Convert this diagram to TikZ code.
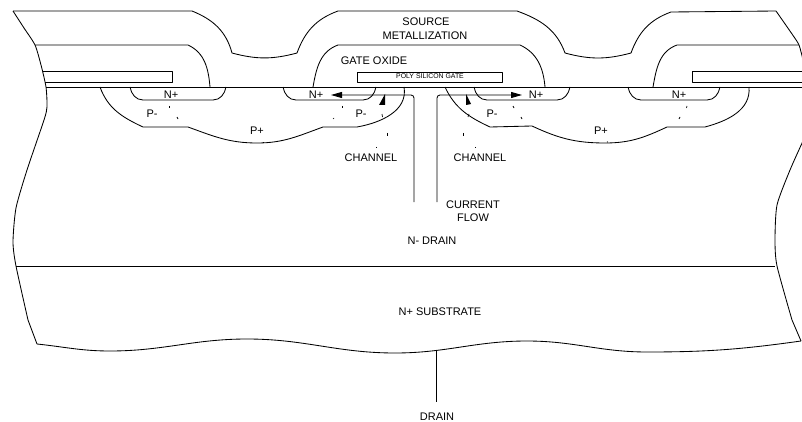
\documentclass[tikz,border=0pt]{standalone}
\usepackage{fontspec}
\setmainfont{Liberation Sans}
\usepackage{tikz}
\usetikzlibrary{arrows.meta}

\begin{document}
\begin{tikzpicture}[
        x=1pt,
        y=-1pt,
        outline/.style={line width=0.85pt, black, line join=round},
        flow/.style={line width=0.85pt, black, rounded corners=3pt, {Triangle[length=11pt, width=6pt]}-},
        tick/.style={line width=0.7pt, black},
        label/.style={font=\fontsize{11}{13}\selectfont, inner sep=0pt, align=center},
        tiny/.style={font=\fontsize{6.9}{8}\selectfont, inner sep=0pt}
    ]
        \useasboundingbox (0,0) rectangle (802,422);

        \draw[outline] (13,11) -- (192,11) to[out=-22, in=105] (232,53)
            to[out=-15, in=195] (297,53) to[out=70, in=200] (338,11) -- (517,11)
            to[out=-20, in=110] (565,53) to[out=-15, in=195] (631,53)
            to[out=70, in=200] (671,12) -- (776,11);
        \draw[outline] plot[smooth, tension=0.4] coordinates {(13,11) (24,28) (35,45) (41,65) (46,87) (47,107) (44,120) (27,170) (16,208) (13,242) (16,266) (28,320)} -- (37,344);
        \draw[outline] (37,344) to[out=-6, in=180] (110,351) to[out=0, in=180] (247,339)
            to[out=0, in=180] (395,353) to[out=0, in=180] (527,341)
            to[out=0, in=180] (647,352) to[out=0, in=188] (801,341);
        \draw[outline] plot[smooth, tension=0.4] coordinates {(776,11) (792,34) (799,45) (803,60)};
        \draw[outline] plot[smooth, tension=0.4] coordinates {(803,141) (790,170) (777,205) (775,240) (777,266) (792,320)} -- (801,341);

        \draw[outline] (35,45) -- (188,45) to[out=-25, in=95] (210,87);
        \draw[outline] (313,87) to[out=80, in=200] (338,45) -- (520,45) to[out=-25, in=95] (545,87);
        \draw[outline] (653,87) to[out=80, in=200] (677,45) -- (799,45);

        \draw[outline] (46,87) -- (802,87);
        \draw[outline] (16,266) -- (775,266);

        \draw[outline] (43,71) -- (172,71) -- (172,82) -- (45,82);
        \draw[outline] (357,72) rectangle (502,82);
        \draw[outline] (803,71) -- (692,71) -- (692,82) -- (803,82);

        \draw[outline] (130,87) to[out=-80, in=180] (143,100) -- (213,100) to[out=0, in=-100] (226,87);
        \draw[outline] (283,87) to[out=-80, in=180] (296,100) -- (363,100) to[out=0, in=-100] (376,87);
        \draw[outline] (474,87) to[out=-80, in=180] (487,100) -- (557,100) to[out=0, in=-100] (570,87);
        \draw[outline] (628,87) to[out=-80, in=180] (641,100) -- (707,100) to[out=0, in=-100] (720,87);

        \draw[outline] (100,87) to[out=-70, in=155] (143,127) -- (188,127)
            to[out=-20, in=180] (257,143) to[out=0, in=200] (323,127) -- (357,127)
            to[out=10, in=-80] (404,87);
        \draw[outline] (445,87) to[out=-65, in=155] (490,127) -- (532,126)
            to[out=-25, in=180] (605,143) to[out=0, in=205] (667,127) -- (705,127)
            to[out=15, in=-85] (749,87);

        \draw[flow] (331,95) -- (414,95) -- (414,202);
        \draw[flow] (522,95) -- (437,95) -- (437,202);

        \fill[black] (385,94) -- (379,105) -- (385,105) -- cycle;
        \fill[black] (466,94) -- (466,105) -- (471,104) -- cycle;

        \foreach \a/\b/\c/\d in {169/106/169/108, 177/117/178/119, 342/106/342/108, 334/118/333/119,
            382/114/382.5/117, 387/133/387/136, 376/147/376/147.6, 469/114/468/117, 463/133/463/136, 475/147/475/147.6,
            513/106/514/108, 521/117/522/119, 687/106/686.5/108, 680/117/679/119, 263/142/264/142, 607/141.6/608/142.4}
            \draw[tick] (\a,\b) -- (\c,\d);

        \draw[outline] (436,351) -- (436,402);

        \node[label] (source) at (426,22) {SOURCE};
        \node[label] (metal) at (425,36) {METALLIZATION};
        \node[label] (oxide) at (374,61) {GATE OXIDE};
        \node[tiny] (poly) at (430,76.5) {POLY SILICON GATE};
        \node[label] (nplusa) at (171,95) {N+};
        \node[label] (nplusb) at (316,95) {N+};
        \node[label] (nplusc) at (536,95) {N+};
        \node[label] (nplusd) at (679,95) {N+};
        \node[label] (pminusa) at (152,114) {P-};
        \node[label] (pminusb) at (361,114) {P-};
        \node[label] (pminusc) at (492,114) {P-};
        \node[label] (pplusa) at (257,131) {P+};
        \node[label] (pplusb) at (601,131) {P+};
        \node[label] (channela) at (371,158) {CHANNEL};
        \node[label] (channelb) at (480,158) {CHANNEL};
        \node[label] (current) at (473,211) {CURRENT\\FLOW};
        \node[label] (ndrain) at (432,241) {N- DRAIN};
        \node[label] (substrate) at (440,312) {N+ SUBSTRATE};
        \node[label] (drain) at (437,417) {DRAIN};
    \end{tikzpicture}
\end{document}
